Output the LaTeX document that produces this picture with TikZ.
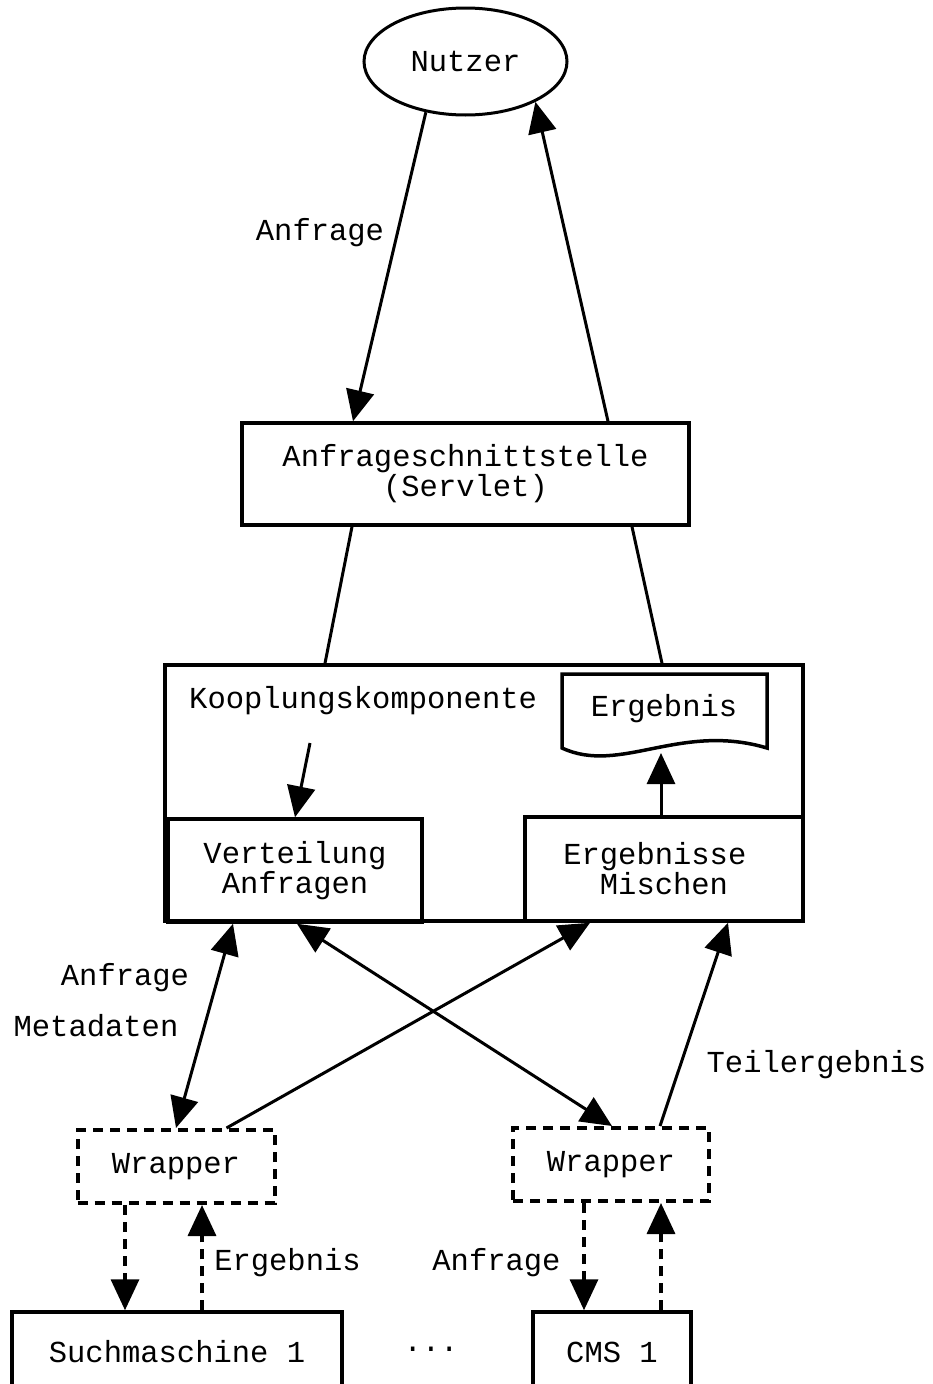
\documentclass[tikz,border=0pt]{standalone}
\usepackage{fontspec}
\setmainfont{Liberation Mono}
\usetikzlibrary{arrows.meta,shapes.geometric}
\begin{document}
\begin{tikzpicture}[x=1pt,y=-1pt,
  font=\fontsize{30.5}{30}\selectfont,
  box/.style={draw, line width=3.5pt, rectangle, inner sep=0pt, align=center},
  wrapbox/.style={draw, line width=4pt, rectangle, inner sep=0pt, dash pattern=on 10pt off 7pt},
  lbl/.style={anchor=base, inner sep=0pt},
  tipA/.style={-{Triangle[length=31pt,width=28pt]}},
  tipB/.style={{Triangle[length=31pt,width=28pt]}-{Triangle[length=31pt,width=28pt]}},
  conn/.style={line width=3pt},
  dconn/.style={line width=3.5pt, dash pattern=on 10pt off 7pt}]
\useasboundingbox (0,0) rectangle (932,1384);
\clip (0,0) rectangle (932,1384);

% nodes
\node[draw, ellipse, line width=3pt, minimum width=203pt, minimum height=107pt, inner sep=0pt] (Nutzer) at (465.5,61.5) {Nutzer};
\node[box, minimum width=447pt, minimum height=102pt] (Anf) at (465.5,474) {\raisebox{-5pt}{Anfrageschnittstelle}\\\raisebox{-5pt}{(Servlet)}};
\node[box, minimum width=638pt, minimum height=256pt] (Koop) at (484,793) {};
\node[lbl, anchor=base west] (KoopL) at (189,708) {Kooplungskomponente};
\node[box, minimum width=254pt, minimum height=103pt] (Vert) at (295,870.5) {\raisebox{-4pt}{Verteilung}\\\raisebox{-4pt}{Anfragen}};
\node[box, minimum width=278pt, minimum height=104pt] (Misch) at (664,869) {\raisebox{-2pt}{Ergebnisse\hphantom{x}}\\\raisebox{-2pt}{Mischen}};

% document shape "Ergebnis"
\draw[line width=3.5pt, line join=miter] (562,748) -- (562,674) -- (767,674) -- (767,748)
  .. controls (680,722) and (620,775) .. (562,748) -- cycle;
\node[lbl] (Erg) at (664,716) {Ergebnis};
\coordinate (docbot) at (661,753);
\coordinate (kstart) at (310,743);

\node[wrapbox, minimum width=197pt, minimum height=73pt] (W1) at (176,1166.5) {Wrapper};
\node[wrapbox, minimum width=196pt, minimum height=73pt] (W2) at (611,1164.5) {Wrapper};
\node[box, minimum width=330pt, minimum height=80pt] (Such) at (177,1352) {Suchmaschine 1};
\node[box, minimum width=158pt, minimum height=80pt] (CMS) at (612,1352) {CMS 1};
\node[lbl] (dots) at (431,1351) {...};

% labels
\node[lbl] (l1) at (320,240) {Anfrage};
\node[lbl] (l2) at (125,985) {Anfrage};
\node[lbl] (l3) at (96,1036) {Metadaten};
\node[lbl] (l4) at (816.5,1072) {Teilergebnis};
\node[lbl] (l5) at (287.5,1270) {Ergebnis};
\node[lbl] (l6) at (496.5,1270) {Anfrage};

% connectors top
\draw[conn, tipA] (Nutzer.232) -- ([xshift=-112.5pt]Anf.north);
\draw[conn, tipA] ([xshift=142.5pt]Anf.north) -- (Nutzer.330);
\draw[conn] ([xshift=-113.5pt]Anf.south) -- ([xshift=-159pt]Koop.north);
\draw[conn] ([xshift=166.5pt]Anf.south) -- ([xshift=178pt]Koop.north);
\draw[conn, tipA] (kstart) -- (Vert.north);
\draw[conn, tipA] ([xshift=-3pt]Misch.north) -- (docbot);

% connectors middle
\draw[conn, tipB] ([xshift=-62pt]Vert.south) -- (W1.north);
\draw[conn, tipA] ([xshift=50.5pt]W1.north) -- ([xshift=-74pt]Misch.south);
\draw[conn, tipB] ([xshift=2pt]Vert.south) -- ([xshift=1pt]W2.north);
\draw[conn, tipA] ([xshift=49pt]W2.north) -- ([xshift=64pt]Misch.south);

% dashed connectors bottom
\draw[dconn, tipA] ([xshift=-51pt]W1.south) -- ([xshift=-51pt]W1.south |- Such.north);
\draw[dconn, tipA] ([xshift=26pt]W1.south |- Such.north) -- ([xshift=26pt]W1.south);
\draw[dconn, tipA] ([xshift=-27pt]W2.south) -- ([xshift=-27pt]W2.south |- CMS.north);
\draw[dconn, tipA] ([xshift=50pt]W2.south |- CMS.north) -- ([xshift=50pt]W2.south);
\end{tikzpicture}
\end{document}
